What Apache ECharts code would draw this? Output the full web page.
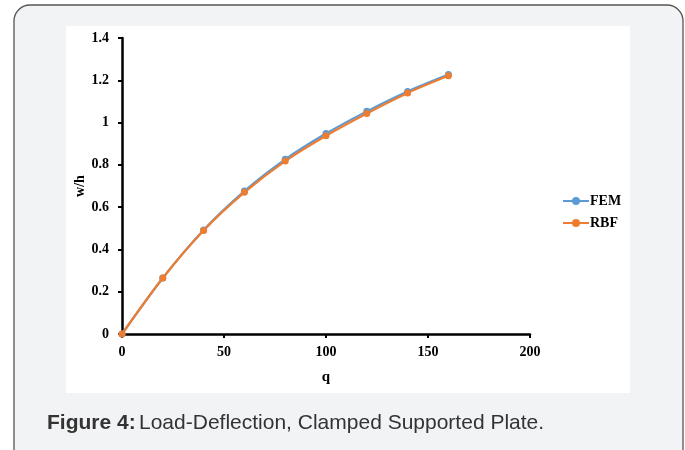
<!DOCTYPE html>
<html><head><meta charset="utf-8">
<script src="https://cdn.jsdelivr.net/npm/echarts@6/dist/echarts.min.js"></script>
<style>html,body{margin:0;padding:0;background:#fff}#c{width:685px;height:450px}</style>
</head><body><div id="c"></div>
<script>
const q = [0, 20, 40, 60, 80, 100, 120, 140, 160];
const fem = [0, 0.265, 0.492, 0.676, 0.826, 0.948, 1.053, 1.147, 1.227];
const rbf = [0, 0.265, 0.490, 0.670, 0.818, 0.938, 1.043, 1.140, 1.221];
const seriesNames = ['FEM', 'RBF'];
const xTicks = [0, 50, 100, 150, 200];
const yTicks = [0, 0.2, 0.4, 0.6, 0.8, 1, 1.2, 1.4];

const chart = echarts.init(document.getElementById('c'));
const serif = '"Liberation Serif", "Times New Roman", serif';
const sans = '"Liberation Sans", Arial, sans-serif';
const lab = {fontFamily: serif, fontWeight: 'bold', fontSize: 14, color: '#000'};
chart.setOption({
  animation: false,
  graphic: [
    {type: 'rect', z: -10, shape: {x: 14, y: 5, width: 669, height: 470, r: 16},
     style: {fill: '#f2f3f5', stroke: '#555', lineWidth: 1.3}},
    {type: 'rect', z: -9, shape: {x: 66, y: 26, width: 564, height: 367},
     style: {fill: '#fff'}},
    {type: 'text', left: 47, top: 413, style: {
      text: '{b|Figure 4:} {n|Load-Deflection, Clamped Supported Plate.}',
      rich: {
        b: {fontFamily: sans, fontWeight: 'bold', fontSize: 21, fill: '#333'},
        n: {fontFamily: sans, fontSize: 21, fill: '#333'}
      }}}
  ],
  grid: {left: 122, right: 155, top: 38, bottom: 116},
  legend: {
    orient: 'vertical', left: 557, top: 189, itemGap: 8, itemWidth: 26, itemHeight: 10,
    data: seriesNames,
    textStyle: {fontFamily: serif, fontWeight: 'bold', fontSize: 14, color: '#000', padding: [0,0,0,-4]}
  },
  xAxis: {
    type: 'value', min: 0, max: 200, interval: 50,
    name: 'q', nameLocation: 'middle', nameGap: 36, nameMoveOverlap: false,
    nameTextStyle: {fontFamily: serif, fontWeight: 'bold', fontSize: 15, color: '#000'},
    axisLine: {lineStyle: {color: '#000', width: 2.5}},
    axisTick: {show: true, length: 4, lineStyle: {color: '#000', width: 2}},
    axisLabel: Object.assign({margin: 11, formatter: v => xTicks.includes(v) ? String(v) : ''}, lab),
    splitLine: {show: false}
  },
  yAxis: {
    type: 'value', min: 0, max: 1.4, interval: 0.2,
    name: 'w/h', nameLocation: 'middle', nameGap: 35, nameRotate: 90, nameMoveOverlap: false,
    nameTextStyle: {fontFamily: serif, fontWeight: 'bold', fontSize: 14, color: '#000'},
    axisLine: {show: true, lineStyle: {color: '#000', width: 2.5}},
    axisTick: {show: true, length: 4, lineStyle: {color: '#000', width: 2}},
    axisLabel: Object.assign({margin: 13, formatter: v => {
      const t = yTicks.find(y => Math.abs(y - v) < 1e-9); return t === undefined ? '' : String(t);
    }}, lab),
    splitLine: {show: false}
  },
  series: [
    {name: seriesNames[0], type: 'line', smooth: 0.3, data: q.map((x, i) => [x, fem[i]]),
     symbol: 'circle', symbolSize: 7, itemStyle: {color: '#5b9bd5'}, lineStyle: {width: 2.2, color: '#5b9bd5'}},
    {name: seriesNames[1], type: 'line', smooth: 0.3, data: q.map((x, i) => [x, rbf[i]]),
     symbol: 'circle', symbolSize: 7, itemStyle: {color: '#ed7d31'}, lineStyle: {width: 2.2, color: '#ed7d31'}}
  ]
});
</script></body></html>
